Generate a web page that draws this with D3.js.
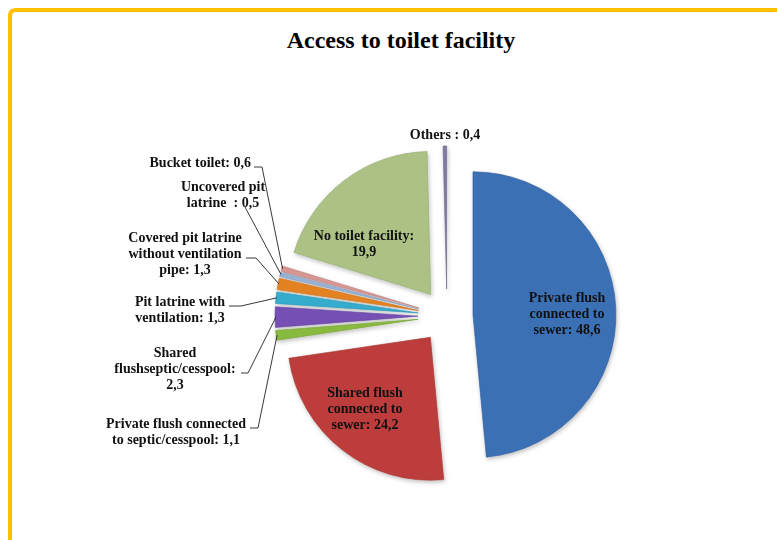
<!DOCTYPE html>
<html>
<head>
<meta charset="utf-8">
<script src="https://cdn.jsdelivr.net/npm/d3@7/dist/d3.min.js"></script>
<style>
  body { margin: 0; background: #fff; }
  svg { display: block; }
</style>
</head>
<body>
<div id="chart"></div>
<script>
// Data (percent)
const categories = [
  "Private flush connected to sewer",
  "Shared flush connected to sewer",
  "Private flush connected to septic/cesspool",
  "Shared flushseptic/cesspool",
  "Pit latrine with ventilation",
  "Covered pit latrine without ventilation pipe",
  "Uncovered pit latrine",
  "Bucket toilet",
  "No toilet facility",
  "Others"
];
const values = [48.6, 24.2, 1.1, 2.3, 1.3, 1.3, 0.5, 0.6, 19.9, 0.4];
const labelLines = [
  ["Private flush", "connected to", "sewer: 48,6"],
  ["Shared flush", "connected to", "sewer: 24,2"],
  ["Private flush connected", "to septic/cesspool: 1,1"],
  ["Shared", "flushseptic/cesspool:", "2,3"],
  ["Pit latrine with", "ventilation: 1,3"],
  ["Covered pit latrine", "without ventilation", "pipe: 1,3"],
  ["Uncovered pit", "latrine  : 0,5"],
  ["Bucket toilet: 0,6"],
  ["No toilet facility:", "19,9"],
  ["Others : 0,4"]
];
const colors = ["#4079c6", "#cd4440", "#95cb45", "#7f57c4", "#3abbe0", "#f98e25", "#a6c3ea", "#eca4a1", "#bcd490", "#8e84b2"];

const width = 777, height = 540;
const cx = 447, cy = 316, radius = 143;
// explosion distance of each slice (px)
const explode = [26, 27, 29, 29, 29, 29, 29, 29, 27, 27];

// label layout: x, first baseline, anchor, leader (tick start/end) or null
const labelLayout = [
  { x: 567, y: 302, anchor: "middle", leader: null },
  { x: 365, y: 397, anchor: "middle", leader: null },
  { x: 176, y: 428, anchor: "middle", leader: [[250, 428], [258, 428]] },
  { x: 175, y: 357, anchor: "middle", leader: [[241, 373], [248, 373]] },
  { x: 180, y: 306, anchor: "middle", leader: [[229, 306], [241, 306]] },
  { x: 185, y: 242, anchor: "middle", leader: [[246, 258], [256, 258]] },
  { x: 223, y: 191, anchor: "middle", leader: [[245, 207], [245, 207]] },
  { x: 251, y: 167, anchor: "end", leader: [[254, 167], [262, 167]] },
  { x: 364, y: 240, anchor: "middle", leader: null },
  { x: 445, y: 139, anchor: "middle", leader: null }
];
const lineHeight = 16;

const svg = d3.select("#chart").append("svg")
  .attr("width", width)
  .attr("height", height)
  .attr("viewBox", `0 0 ${width} ${height}`);

const defs = svg.append("defs");
const shadow = defs.append("filter").attr("id", "shadow")
  .attr("x", "-20%").attr("y", "-20%").attr("width", "140%").attr("height", "140%");
shadow.append("feDropShadow")
  .attr("dx", 1).attr("dy", 2).attr("stdDeviation", 2)
  .attr("flood-color", "#000").attr("flood-opacity", 0.25);

// yellow frame (top and left)
svg.append("path")
  .attr("d", `M10,${height} L10,16 Q10,10 16,10 L${width},10`)
  .attr("fill", "none")
  .attr("stroke", "#ffc000")
  .attr("stroke-width", 4);

// title
svg.append("text")
  .attr("x", 401).attr("y", 48)
  .attr("text-anchor", "middle")
  .attr("font-family", "'Liberation Serif', 'Times New Roman', serif")
  .attr("font-weight", "bold")
  .attr("font-size", 24)
  .attr("fill", "#000")
  .text("Access to toilet facility");

const pie = d3.pie().sort(null).value(d => d).startAngle(0).endAngle(2 * Math.PI);
const arcs = pie(values);
const arc = d3.arc().innerRadius(0).outerRadius(radius);

function apex(a, i) {
  const mid = (a.startAngle + a.endAngle) / 2;
  return [cx + explode[i] * Math.sin(mid), cy - explode[i] * Math.cos(mid)];
}

// gradients for bevel look
arcs.forEach((a, i) => {
  const [ax, ay] = apex(a, i);
  const base = d3.color(colors[i]);
  const g = defs.append("radialGradient")
    .attr("id", "grad" + i)
    .attr("gradientUnits", "userSpaceOnUse")
    .attr("cx", ax).attr("cy", ay).attr("r", radius);
  g.append("stop").attr("offset", "0%").attr("stop-color", base.brighter(0.2));
  g.append("stop").attr("offset", "90%").attr("stop-color", base);
  g.append("stop").attr("offset", "100%").attr("stop-color", base.darker(0.25));
});

const slices = svg.append("g").attr("filter", "url(#shadow)");
slices.selectAll("path")
  .data(arcs)
  .join("path")
  .attr("transform", (a, i) => `translate(${apex(a, i)})`)
  .attr("d", arc)
  .attr("fill", (a, i) => `url(#grad${i})`)
  .attr("stroke", (a, i) => d3.color(colors[i]).darker(0.7))
  .attr("stroke-width", 0.6)
  .attr("stroke-linejoin", "round");

// leader lines
const leaders = svg.append("g")
  .attr("fill", "none")
  .attr("stroke", "#222")
  .attr("stroke-width", 0.9);
arcs.forEach((a, i) => {
  const L = labelLayout[i].leader;
  if (!L) return;
  const [ax, ay] = apex(a, i);
  const mid = (a.startAngle + a.endAngle) / 2;
  const end = [ax + (radius - 1) * Math.sin(mid), ay - (radius - 1) * Math.cos(mid)];
  leaders.append("path").attr("d", d3.line()([L[0], L[1], end]));
});

// labels
const labels = svg.append("g")
  .attr("font-family", "'Liberation Serif', 'Times New Roman', serif")
  .attr("font-weight", "bold")
  .attr("font-size", 14)
  .attr("fill", "#111");
labelLines.forEach((lines, i) => {
  const p = labelLayout[i];
  const t = labels.append("text")
    .attr("x", p.x).attr("y", p.y)
    .attr("text-anchor", p.anchor)
    .attr("xml:space", "preserve");
  lines.forEach((ln, j) => {
    t.append("tspan").attr("x", p.x).attr("y", p.y + j * lineHeight).text(ln);
  });
});
</script>
</body>
</html>
